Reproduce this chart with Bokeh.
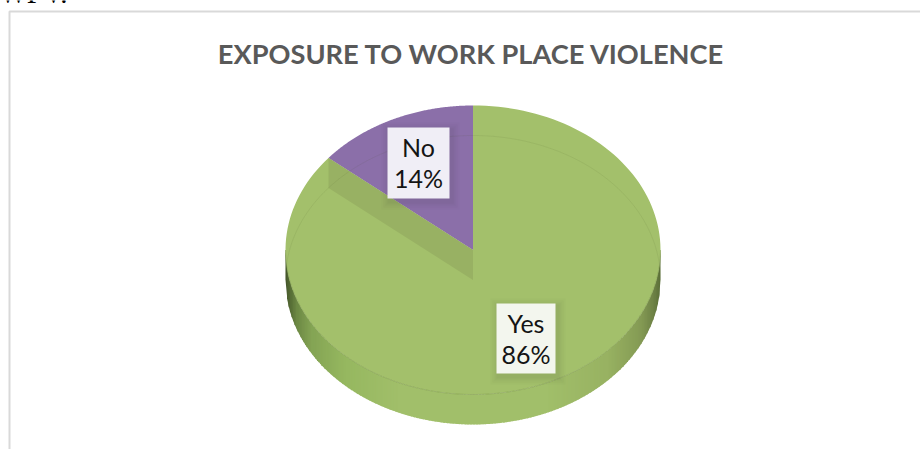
import numpy as np
from bokeh.core.properties import value
from bokeh.embed import file_html
from bokeh.models import Range1d
from bokeh.plotting import figure
from bokeh.resources import INLINE

# Chart content
title = "EXPOSURE TO WORK PLACE VIOLENCE"
heading_fragment = "WPV."
categories = ["No", "Yes"]
shares = [14, 86]
slice_colors = ["#8b6fa9", "#a3c06b"]

# Pie geometry on the page, in pixels
CX, CY, RX, RY, DEPTH = 472.5, 249.5, 187.5, 144.5, 30.0

p = figure(width=920, height=449, output_backend="svg", toolbar_location=None,
           x_range=Range1d(0, 920), y_range=Range1d(449, 0),
           min_border=0, outline_line_color=None, background_fill_color="white",
           border_fill_color="white")
p.axis.visible = False
p.grid.visible = False


def rim(turn_from, turn_to, dy=0.0, n=160):
    """Ellipse points between two pie fractions, clockwise from twelve o'clock."""
    t = np.linspace(turn_from, turn_to, n) * 2 * np.pi
    return CX + RX * np.sin(t), CY + dy - RY * np.cos(t)


def wall_colour(x):
    """Side wall shading: dark at both silhouette edges, light towards the front."""
    u = (x - (CX - RX)) / (2 * RX)
    stops_u = [0.0, 0.012, 0.03, 0.07, 0.16, 0.30, 0.70, 0.86, 0.95, 0.985, 1.0]
    stops_r = [66, 84, 108, 132, 150, 161, 161, 152, 132, 108, 90]
    stops_g = [84, 106, 136, 164, 184, 191, 191, 178, 154, 128, 110]
    stops_b = [42, 52, 68, 84, 96, 106, 106, 98, 84, 68, 56]
    r = np.interp(u, stops_u, stops_r)
    g = np.interp(u, stops_u, stops_g)
    b = np.interp(u, stops_u, stops_b)
    return f"#{int(r):02x}{int(g):02x}{int(b):02x}"


# Chart frame, running off the page to the right and the bottom
p.line([9, 9, 920], [449, 11, 11], line_color="#d9d9d9", line_width=2)

# Side wall of the disc, one narrow strip per step across its width
xs, ys, colours = [], [], []
for x0 in np.arange(CX - RX, CX + RX, 1.5):
    x1 = min(x0 + 2.0, CX + RX)
    y0 = RY * np.sqrt(max(0, 1 - ((x0 - CX) / RX) ** 2))
    y1 = RY * np.sqrt(max(0, 1 - ((x1 - CX) / RX) ** 2))
    xs.append([x0, x1, x1, x0])
    ys.append([CY + y0, CY + y1, CY + y1 + DEPTH, CY + y0 + DEPTH])
    colours.append(wall_colour((x0 + x1) / 2))
p.patches(xs, ys, fill_color=colours, line_color=None)

# Slices of the top face
total = sum(shares)
no_end = shares[0] / total
cut = -no_end
x_yes, y_yes = rim(0.0, 1 - no_end)
p.patch(np.r_[CX, x_yes], np.r_[CY, y_yes], fill_color=slice_colors[1], line_color=None)
x_no, y_no = rim(cut, 0.0)
p.patch(np.r_[CX, x_no], np.r_[CY, y_no], fill_color=slice_colors[0], line_color=None)

# Cut face of the green slice seen through the missing wedge
edge_x, edge_y = rim(cut, cut, n=1)
p.patch([edge_x[0], CX, CX, edge_x[0]],
        [edge_y[0], CY, CY + DEPTH, edge_y[0] + DEPTH],
        fill_color="#98b163", line_color=None)

# Faint bevel lines: back arc of the lower rim and front arc of the upper rim
bx, by = rim(-0.25, 0.25, dy=DEPTH)
p.line(bx, by, line_color="#4a5a30", line_alpha=0.09, line_width=1)
fx, fy = rim(0.25, 0.75)
p.line(fx, fy, line_color="#7f9a4e", line_alpha=0.7, line_width=0.8)

# Value labels, each a pale box with a soft shadow and two lines of text
boxes = {
    "No": (387, 449, 127, 198, "#f0eef6"),
    "Yes": (496, 555, 303, 373, "#f3f6ee"),
}
for name, share in zip(categories, shares):
    left, right, top, bottom, fill = boxes[name]
    for grow, alpha in ((8, 0.02), (6, 0.025), (4, 0.035), (2, 0.045)):
        p.quad(left=[left - grow + 2], right=[right + grow + 2],
               top=[top - grow + 3], bottom=[bottom + grow + 3],
               fill_color="#3a3a3a", fill_alpha=alpha, line_color=None)
    p.quad(left=[left], right=[right], top=[top], bottom=[bottom],
           fill_color=fill, line_color=None)
    mid = (left + right) / 2
    p.text([mid], [top + 19], text=[name], text_font=value("Lato"),
           text_font_size="25px", text_color="#141414",
           text_align="center", text_baseline="middle")
    p.text([mid], [top + 50], text=[f"{share}%"], text_font=value("Lato"),
           text_font_size="25px", text_color="#141414",
           text_align="center", text_baseline="middle")

# Title and the clipped line of body text above the frame
p.text([471], [53], text=[title], text_font=value("Lato"), text_font_style="bold",
       text_font_size="27.2px", text_color="#595959",
       text_align="center", text_baseline="middle")
p.text([-1], [-8], text=[heading_fragment], text_font=value("Liberation Serif"),
       text_font_size="29px", text_color="#000000",
       text_align="left", text_baseline="alphabetic")

open("out.html", "w").write(file_html(p, INLINE))
